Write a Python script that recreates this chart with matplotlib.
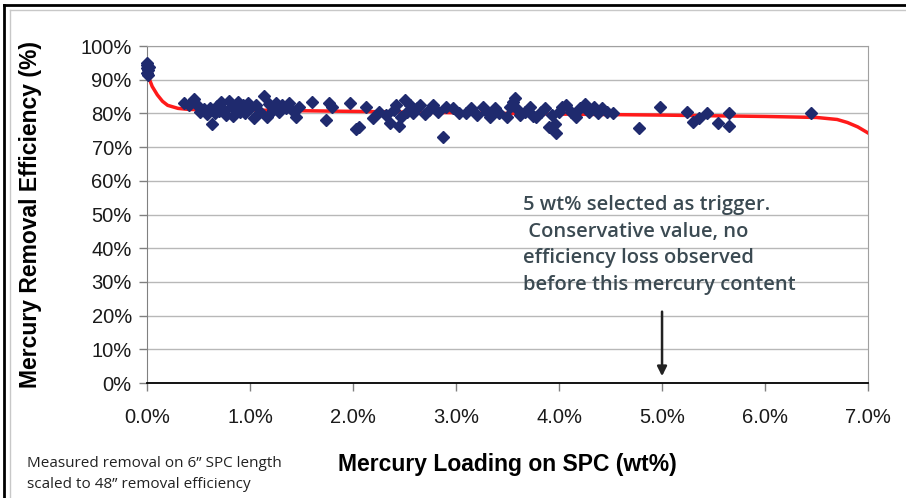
import numpy as np
import matplotlib
matplotlib.use("Agg")
import matplotlib.pyplot as plt
from matplotlib.ticker import PercentFormatter, MultipleLocator
from matplotlib.lines import Line2D

# Measured points: mercury loading (wt%) vs removal efficiency (%)
loading = [0.0, 0.0, 0.0, 0.01, 0.0, 0.02, 0.01,
           0.36, 0.41, 0.46, 0.50, 0.51, 0.55, 0.58, 0.61, 0.63, 0.66,
           0.68, 0.70, 0.72, 0.75, 0.77, 0.80, 0.82, 0.83, 0.86, 0.88,
           0.90, 0.93, 0.95, 0.98, 1.00, 1.04, 1.06, 1.10, 1.14, 1.16,
           1.18, 1.22, 1.25, 1.28, 1.31, 1.35, 1.38, 1.42, 1.45, 1.48,
           1.60, 1.74, 1.77, 1.80, 1.97, 2.03, 2.06, 2.13, 2.19, 2.25,
           2.32, 2.36, 2.40, 2.42, 2.45, 2.47, 2.50, 2.52, 2.55, 2.58,
           2.62, 2.65, 2.70, 2.74, 2.78, 2.82, 2.87, 2.90, 2.97, 3.03,
           3.10, 3.15, 3.20, 3.26, 3.30, 3.33, 3.38, 3.42, 3.49, 3.52,
           3.55, 3.57, 3.60, 3.62, 3.67, 3.72, 3.75, 3.78, 3.82, 3.86,
           3.90, 3.93, 3.96, 3.97, 4.00, 4.03, 4.07, 4.12, 4.16, 4.20,
           4.25, 4.29, 4.34, 4.38, 4.42, 4.47, 4.52, 4.78, 4.98, 5.24,
           5.30, 5.36, 5.44, 5.54, 5.65, 5.65, 6.45]
efficiency = [95.0, 94.3, 93.5, 92.8, 92.0, 93.8, 91.5,
              83.0, 82.5, 84.2, 82.0, 80.3, 81.2, 79.8, 81.5, 77.0, 80.2,
              82.3, 80.8, 83.5, 81.0, 79.5, 83.8, 82.0, 79.2, 81.8, 83.3,
              80.5, 82.5, 80.0, 83.0, 81.5, 78.5, 82.5, 80.3, 85.3, 79.0,
              82.8, 81.0, 83.0, 80.5, 82.5, 81.5, 83.2, 80.8, 79.0, 82.0,
              83.3, 78.0, 83.0, 82.0, 83.0, 75.5, 76.0, 81.8, 78.5, 80.5,
              79.5, 77.3, 81.0, 82.5, 76.4, 79.0, 84.0, 80.5, 82.5, 80.0,
              81.5, 82.4, 79.8, 81.0, 82.4, 80.5, 72.9, 82.0, 81.5, 80.2,
              80.0, 81.5, 79.5, 81.8, 80.5, 78.8, 81.5, 80.2, 78.8, 82.0,
              83.5, 84.7, 81.0, 79.5, 80.5, 81.8, 79.2, 78.8, 80.3, 81.5,
              76.0, 79.5, 77.0, 74.3, 80.5, 81.8, 82.4, 80.3, 78.8, 81.5,
              82.8, 80.3, 81.8, 80.0, 81.5, 80.3, 80.0, 75.8, 82.0, 80.3,
              77.5, 78.5, 80.0, 77.3, 80.0, 76.2, 80.2]

# Trend line
trend_x = [0.0, 0.05, 0.10, 0.15, 0.20, 0.30, 0.40, 0.50, 1.0, 2.0, 3.0,
           4.0, 5.0, 6.0, 6.5, 6.7, 6.8, 6.9, 7.0]
trend_y = [92.0, 88.0, 85.5, 83.6, 82.4, 81.5, 81.2, 81.1, 81.0, 80.6, 80.2,
           79.8, 79.5, 79.1, 78.8, 78.2, 77.3, 76.0, 74.2]

note = ("5 wt% selected as trigger.\n Conservative value, no\n"
        "efficiency loss observed\nbefore this mercury content")
footnote = "Measured removal on 6\u201d SPC length\nscaled to 48\u201d removal efficiency"

fig = plt.figure(figsize=(9.06, 4.98), dpi=100)
ax = fig.add_axes([0.1623, 0.2309, 0.7958, 0.6767])

# frame lines around the whole picture
fig.add_artist(Line2D([0.004, 0.004], [0, 0.99], transform=fig.transFigure, color="black", lw=2))
fig.add_artist(Line2D([0.004, 1.0], [0.99, 0.99], transform=fig.transFigure, color="black", lw=2))
fig.add_artist(Line2D([0.011, 0.011], [0, 0.98], transform=fig.transFigure, color="#c8c8c8", lw=1))
fig.add_artist(Line2D([0.011, 1.0], [0.98, 0.98], transform=fig.transFigure, color="#c8c8c8", lw=1))

ax.plot(trend_x, trend_y, color="#ff1a1a", lw=2.5, zorder=3)
ax.plot(loading, efficiency, ls="none", marker="D", ms=6.3, color="#1f2a6e",
        mec="#1f2a6e", zorder=4, clip_on=False)

ax.set_xlim(0, 7)
ax.set_ylim(0, 100)
ax.xaxis.set_major_locator(MultipleLocator(1))
ax.yaxis.set_major_locator(MultipleLocator(10))
ax.xaxis.set_major_formatter(PercentFormatter(100, decimals=1))
ax.yaxis.set_major_formatter(PercentFormatter(100, decimals=0))
ax.grid(axis="y", color="#b8b8b8", lw=1)
ax.set_axisbelow(True)

for s in ["top", "right"]:
    ax.spines[s].set_color("#a0a0a0")
ax.spines["left"].set_color("#808080")
ax.spines["bottom"].set_color("black")
ax.spines["bottom"].set_linewidth(1.3)
ax.tick_params(axis="both", direction="out", length=6, width=1, color="#808080",
               labelsize=14.5, labelcolor="#1a1a1a")
ax.tick_params(axis="x", pad=12)
ax.tick_params(axis="y", pad=5)
for lab in ax.get_xticklabels() + ax.get_yticklabels():
    lab.set_family("Liberation Sans")

ax.set_xlabel("Mercury Loading on SPC (wt%)", family="Liberation Sans",
              fontweight="bold", fontsize=16.5, labelpad=19)
ax.set_ylabel("Mercury Removal Efficiency (%)", family="Liberation Sans",
              fontweight="bold", fontsize=16.5, labelpad=28)

ax.text(3.65, 55.8, note, fontsize=14.5, family="Open Sans", fontweight="semibold",
        color="#3b4a52", va="top", ha="left", linespacing=1.45)
ax.annotate("", xy=(5.0, 1.2), xytext=(5.0, 22.0),
            arrowprops=dict(arrowstyle="-|>", color="#222222", lw=1.8, mutation_scale=14))

fig.text(0.030, 0.012, footnote, fontsize=11, family="Open Sans", color="#222222",
         va="bottom", ha="left", linespacing=1.55)

fig.savefig("out.png", dpi=100)
